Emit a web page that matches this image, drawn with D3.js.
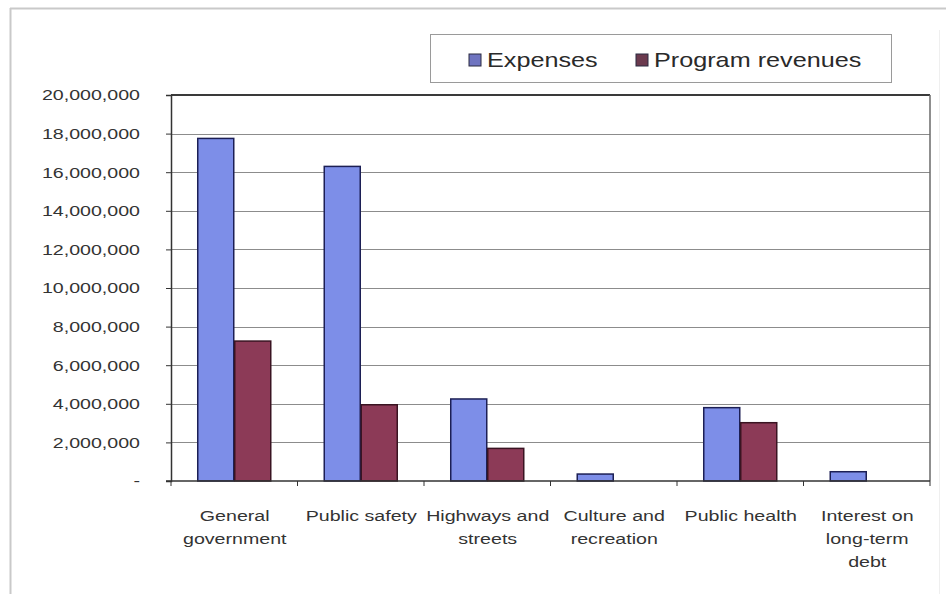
<!DOCTYPE html>
<html>
<head>
<meta charset="utf-8">
<script src="https://cdn.jsdelivr.net/npm/d3@7"></script>
<style>
  html, body { margin: 0; padding: 0; background: #fff; }
  svg { display: block; font-family: Arial, "Liberation Sans", sans-serif; }
</style>
</head>
<body>
<svg id="chart" width="946" height="594"></svg>
<script>
// Categories (multi-line labels) and the two series
const categories = [
  ["General", "government"],
  ["Public safety"],
  ["Highways and", "streets"],
  ["Culture and", "recreation"],
  ["Public health"],
  ["Interest on", "long-term", "debt"]
];
const seriesNames = ["Expenses", "Program revenues"];
const expenses = [17750000, 16300000, 4250000, 360000, 3800000, 480000];
const programRevenues = [7250000, 3950000, 1690000, 0, 3020000, 0];
const yTicks = [0, 2000000, 4000000, 6000000, 8000000, 10000000, 12000000, 14000000, 16000000, 18000000, 20000000];

const colors = { fill: ["#7d8ee8", "#8c3a57"], stroke: ["#1c1f55", "#3a1422"] };

const svg = d3.select("#chart");
const W = 946, H = 594;
const plot = { left: 171, right: 930, top: 95, bottom: 481 };

// Stretch text horizontally by a factor (the typeface is set wide)
function widen(sel, factor) {
  sel.each(function () {
    const w = this.getComputedTextLength();
    if (w > 0) d3.select(this).attr("textLength", w * factor).attr("lengthAdjust", "spacingAndGlyphs");
  });
}

// Outer frame
svg.append("line").attr("x1", 10).attr("x2", W).attr("y1", 8.5).attr("y2", 8.5)
  .attr("stroke", "#c9c9c9").attr("stroke-width", 2);
svg.append("line").attr("x1", 10.5).attr("x2", 10.5).attr("y1", 8).attr("y2", H)
  .attr("stroke", "#c9c9c9").attr("stroke-width", 2);
svg.append("line").attr("x1", 939.5).attr("x2", 939.5).attr("y1", 30).attr("y2", H)
  .attr("stroke", "#efefef").attr("stroke-width", 1);

const keys = categories.map(c => c.join(" "));
const x0 = d3.scaleBand().domain(keys).range([plot.left, plot.right])
  .paddingInner(0.415).paddingOuter(0.2075);
const x1 = d3.scaleBand().domain(seriesNames).range([0, x0.bandwidth()]);
const y = d3.scaleLinear().domain([0, 20000000]).range([plot.bottom, plot.top]);

// Gridlines
svg.append("g").selectAll("line").data(yTicks.filter(t => t > 0 && t < 20000000)).join("line")
  .attr("x1", plot.left).attr("x2", plot.right)
  .attr("y1", d => Math.round(y(d)) + 0.5).attr("y2", d => Math.round(y(d)) + 0.5)
  .attr("stroke", "#8c8c8c").attr("stroke-width", 1);

// Plot area border (top and right)
svg.append("line").attr("x1", plot.left).attr("x2", plot.right).attr("y1", plot.top).attr("y2", plot.top)
  .attr("stroke", "#3a3a3a").attr("stroke-width", 2);
svg.append("line").attr("x1", plot.right).attr("x2", plot.right).attr("y1", plot.top).attr("y2", plot.bottom)
  .attr("stroke", "#6a6a6a").attr("stroke-width", 1.5);

// Bars
const rows = keys.map((k, i) => ({ key: k, values: [expenses[i], programRevenues[i]] }));
const groups = svg.append("g").selectAll("g").data(rows).join("g")
  .attr("transform", d => `translate(${x0(d.key)},0)`);
groups.selectAll("rect")
  .data(d => d.values.map((v, j) => ({ v, j })).filter(e => e.v > 0))
  .join("rect")
  .attr("x", e => x1(seriesNames[e.j]) + 0.5)
  .attr("width", x1.bandwidth() - 1)
  .attr("y", e => y(e.v))
  .attr("height", e => y(0) - y(e.v))
  .attr("fill", e => colors.fill[e.j])
  .attr("stroke", e => colors.stroke[e.j])
  .attr("stroke-width", 1.5);

// Y axis
const yAxis = svg.append("g").attr("transform", `translate(${plot.left},0)`)
  .call(d3.axisLeft(y).tickValues(yTicks).tickSize(5).tickPadding(26)
    .tickFormat(d => d === 0 ? "-" : d3.format(",")(d)));
yAxis.select(".domain").attr("stroke", "#333").attr("stroke-width", 1.5);
yAxis.selectAll(".tick line").attr("stroke", "#333");
yAxis.selectAll("text").attr("font-size", 14).attr("fill", "#333").attr("dy", "0.35em");
widen(yAxis.selectAll("text"), 1.4);

// X axis: baseline and ticks at category boundaries
svg.append("line").attr("x1", plot.left - 5).attr("x2", plot.right).attr("y1", plot.bottom).attr("y2", plot.bottom)
  .attr("stroke", "#333").attr("stroke-width", 1.5);
const step = x0.step();
svg.append("g").selectAll("line").data(d3.range(keys.length + 1)).join("line")
  .attr("x1", i => plot.left + i * step).attr("x2", i => plot.left + i * step)
  .attr("y1", plot.bottom).attr("y2", plot.bottom + 5)
  .attr("stroke", "#333");

// Category labels
const labels = svg.append("g").selectAll("text").data(categories).join("text")
  .attr("x", (d, i) => x0(keys[i]) + x0.bandwidth() / 2 + 0.5)
  .attr("y", 521)
  .attr("text-anchor", "middle")
  .attr("font-size", 14).attr("fill", "#333");
labels.selectAll("tspan").data(d => d).join("tspan")
  .attr("x", function () { return d3.select(this.parentNode).attr("x"); })
  .attr("dy", (d, i) => i === 0 ? 0 : 23)
  .text(d => d);
widen(labels.selectAll("tspan"), 1.4);

// Legend
const legend = svg.append("g");
legend.append("rect").attr("x", 430.5).attr("y", 34.5).attr("width", 461).attr("height", 48)
  .attr("fill", "#fff").attr("stroke", "#9a9a9a").attr("stroke-width", 1);
const legendX = [469, 636];
seriesNames.forEach((name, j) => {
  legend.append("rect").attr("x", legendX[j]).attr("y", 54).attr("width", 12).attr("height", 12)
    .attr("fill", j === 0 ? "#6f74c0" : "#6b3a4e").attr("stroke", "#2a2a40").attr("stroke-width", 1);
  const t = legend.append("text").attr("x", legendX[j] + 18).attr("y", 66.5)
    .attr("font-size", 21).attr("fill", "#2a2a2a").text(name);
  widen(t, 1.2);
});
</script>
</body>
</html>
